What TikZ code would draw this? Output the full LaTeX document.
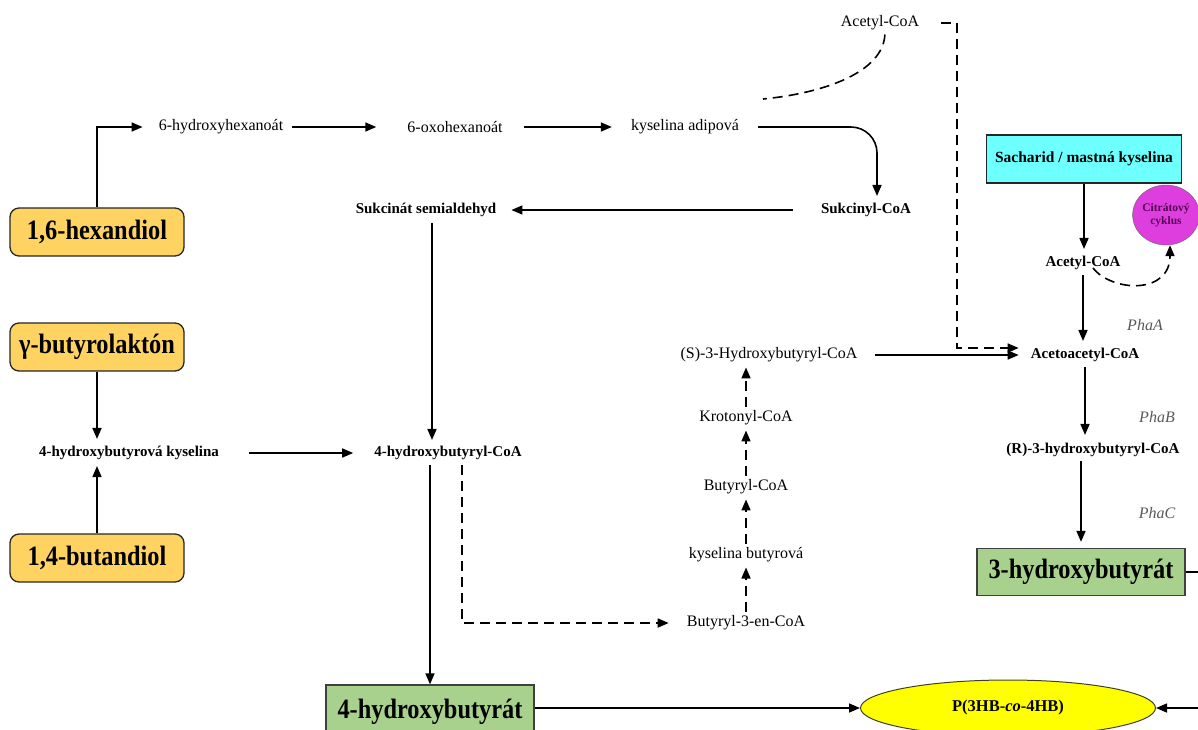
\documentclass[tikz,border=0pt]{standalone}
\usepackage{fontspec}
\setmainfont{Liberation Serif}
\newfontfamily\boxfont[FakeStretch=0.87]{Liberation Serif}
\usetikzlibrary{arrows.meta,shapes.geometric}
\definecolor{srcyellow}{RGB}{255,211,98}
\definecolor{prodgreen}{RGB}{169,209,142}
\definecolor{sachcyan}{RGB}{110,255,255}
\definecolor{tcapink}{RGB}{222,62,222}
\definecolor{tcatext}{RGB}{85,0,85}
\definecolor{polyellow}{RGB}{255,255,0}
\begin{document}
\begin{tikzpicture}[x=1pt,y=-1pt,
  txt/.style={font=\fontsize{16}{18}\selectfont, inner sep=2pt},
  btxt/.style={font=\bfseries\fontsize{15}{17}\selectfont, inner sep=2pt},
  enz/.style={font=\itshape\fontsize{16}{18}\selectfont, text=black!65},
  srcbox/.style={draw=black!85, line width=1.3pt, fill=srcyellow, rounded corners=9pt,
    minimum width=174pt, minimum height=48pt, font=\boxfont\bfseries\fontsize{28}{30}\selectfont},
  prodbox/.style={draw=black!75, line width=1.3pt, fill=prodgreen,
    minimum width=208pt, minimum height=47pt, font=\boxfont\bfseries\fontsize{28}{30}\selectfont},
  arr/.style={-{Triangle[length=11pt,width=9pt]}, line width=1.6pt},
  darr/.style={arr, dash pattern=on 10pt off 6pt},
  dline/.style={line width=1.6pt, dash pattern=on 10pt off 6pt}]
\useasboundingbox (0,0) rectangle (1198,729);
\clip (0,0) rectangle (1198,729);

\node[txt] (acetop) at (880,23) {Acetyl-CoA};
\node[txt] (hyhex) at (221,127) {6-hydroxyhexanoát};
\node[txt] (oxohex) at (455,127) {6-oxohexanoát};
\node[txt] (adip) at (685,127) {kyselina adipová};
\node[btxt] (sukcoa) at (866,210) {Sukcinyl-CoA};
\node[btxt] (sukald) at (426,210) {Sukcinát semialdehyd};
\node[srcbox] (hexdiol) at (97,232) {1,6-hexandiol};
\node[srcbox] (gbl) at (97,347) {γ-butyrolaktón};
\node[btxt] (hbacid) at (129,453) {4-hydroxybutyrová kyselina};
\node[srcbox] (bdo) at (97,558) {1,4-butandiol};
\node[btxt] (hbcoa) at (448,453) {4-hydroxybutyryl-CoA};
\node[prodbox, minimum height=54pt] (fourhb) at (430,712) {4-hydroxybutyrát};
\node[txt] (b3en) at (746,623) {Butyryl-3-en-CoA};
\node[txt] (butac) at (746,555) {kyselina butyrová};
\node[txt] (butcoa) at (746,487) {Butyryl-CoA};
\node[txt] (kroton) at (746,418) {Krotonyl-CoA};
\node[txt] (shb) at (769,355) {(S)-3-Hydroxybutyryl-CoA};
\node[btxt] (acac) at (1085,355) {Acetoacetyl-CoA};
\node[draw=black!85, line width=1.3pt, fill=sachcyan, minimum width=195pt, minimum height=48pt,
  font=\bfseries\fontsize{15.5}{17}\selectfont] (sach) at (1084,159) {Sacharid / mastná kyselina};
\node[btxt] (acet) at (1083,263) {Acetyl-CoA};
\node[ellipse, draw=black!60, fill=tcapink, minimum width=66pt, minimum height=60pt, inner sep=0pt,
  align=center, text=tcatext, font=\bfseries\fontsize{11.5}{13}\selectfont] (tca) at (1166,215) {Citrátový\\cyklus};
\node[btxt] (rhb) at (1093,450) {(R)-3-hydroxybutyryl-CoA};
\node[prodbox] (threehb) at (1081,572) {3-hydroxybutyrát};
\node[ellipse, draw=black!70!olive, line width=1pt, fill=polyellow, minimum width=295pt, minimum height=56pt,
  font=\bfseries\fontsize{16.5}{18}\selectfont] (phb) at (1008,708) {P(3HB-\textit{co}-4HB)};
\node[enz] (phaa) at (1145,325) {PhaA};
\node[enz] (phab) at (1157,417) {PhaB};
\node[enz] (phac) at (1157,513) {PhaC};
\coordinate (dcorner) at (957,348);
\coordinate (dend) at (763,99);

\draw[arr, shorten >=14pt] (hexdiol.north) |- (hyhex.west);
\draw[arr, shorten <=7pt, shorten >=29pt] (hyhex.east) -- (oxohex.west);
\draw[arr, shorten <=19pt, shorten >=17pt] (oxohex.east) -- (adip.west);
\draw[arr, rounded corners=26pt, shorten <=17pt, shorten >=5pt] (adip.east) -| ([xshift=11pt]sukcoa.north);
\draw[arr, shorten <=26pt, shorten >=13pt] (sukcoa.west) -- (sukald.east);
\draw[arr, shorten <=4pt, shorten >=4pt] ([xshift=6pt]sukald.south) -- ([xshift=-16pt]hbcoa.north);
\draw[dline, shorten <=2pt] ([xshift=5pt]acetop.south) .. controls (883,72) and (825,93) .. (dend);
\draw[darr, shorten <=20pt] (acetop.east) -| (dcorner) -- ([yshift=7pt, xshift=-10pt]acac.west);
\draw[arr, shorten >=5pt] (gbl.south) -- (gbl.south |- hbacid.north);
\draw[arr, shorten >=4pt] (bdo.north) -- (bdo.north |- hbacid.south);
\draw[arr, shorten <=28pt, shorten >=19pt] (hbacid.east) -- (hbcoa.west);
\draw[arr, shorten <=3pt] (fourhb.north |- hbcoa.south) -- (fourhb.north);
\draw[darr, shorten <=3pt, shorten >=16pt] ([xshift=14pt]hbcoa.south) |- (b3en.west);
\draw[darr, shorten <=2pt, shorten >=3pt] (b3en.north) -- (butac.south);
\draw[darr, shorten <=2pt, shorten >=3pt] (butac.north) -- (butcoa.south);
\draw[darr, shorten <=2pt, shorten >=3pt] (butcoa.north) -- (kroton.south);
\draw[darr, shorten <=2pt, shorten >=3pt] (kroton.north) -- (kroton.north |- shb.south);
\draw[arr, shorten <=15pt, shorten >=10pt] (shb.east) -- (acac.west);
\draw[arr, shorten >=5pt] (sach.south) -- (sach.south |- acet.north);
\draw[darr] ([xshift=10pt, yshift=-5pt]acet.center) .. controls (1112,292) and (1170,295) .. ([xshift=4pt]tca.south);
\draw[arr, shorten <=3pt, shorten >=5pt] (acet.south) -- (acet.south |- acac.north);
\draw[arr, shorten <=3pt, shorten >=6pt] (acac.south) -- (acac.south |- rhb.north);
\draw[arr, shorten <=2pt, shorten >=6pt] (threehb.north |- rhb.south) -- (threehb.north);
\draw[arr] (phb.west -| fourhb.east) -- (phb.west);
\draw[arr] (threehb.east) -- ++(40,0) |- (phb.east);
\end{tikzpicture}
\end{document}
